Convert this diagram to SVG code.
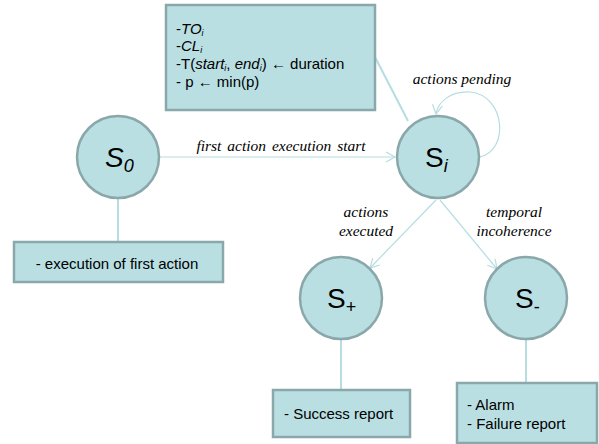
<svg xmlns="http://www.w3.org/2000/svg" width="599" height="444" viewBox="0 0 599 444">
<defs>
<style>
.st{fill:#b9dfe3;stroke:#8aa7aa;stroke-width:2.5}
.cn{fill:none;stroke:#b5dde2;stroke-width:2}
.ar{fill:none;stroke:#b5dde2;stroke-width:1.2}
.bx{font-family:"Liberation Sans",Arial,sans-serif;font-size:15px;fill:#000}
.lb{font-family:"Liberation Serif","Times New Roman",serif;font-style:italic;font-size:15.5px;fill:#000}
.nm{font-family:"Liberation Sans",Arial,sans-serif;font-size:28px;fill:#000}
.sb{font-size:18px}
.sub{font-style:italic;font-size:9px}
</style>
<marker id="ah" markerWidth="12" markerHeight="12" refX="10" refY="6" orient="auto" markerUnits="userSpaceOnUse">
<path d="M1,1 L10,6 L1,11" fill="none" stroke="#b5dde2" stroke-width="1.2"/>
</marker>
</defs>
<rect width="599" height="444" fill="#fff"/>
<g id="connectors">
<line class="cn" x1="375" y1="57" x2="408" y2="121"/>
<line class="cn" x1="118" y1="199" x2="118" y2="242"/>
<line class="cn" x1="341" y1="339" x2="341" y2="390"/>
<line class="cn" x1="526" y1="340" x2="526" y2="383"/>
<line class="ar" x1="160" y1="157" x2="395" y2="157" marker-end="url(#ah)"/>
<line class="ar" x1="436" y1="200" x2="370" y2="268" marker-end="url(#ah)"/>
<line class="ar" x1="440" y1="200" x2="497" y2="269" marker-end="url(#ah)"/>
<path class="ar" d="M480,157 C510,150 505,95 470,92 C450,91 438,102 436,114" marker-end="url(#ah)"/>
<text class="lb" x="281" y="151" text-anchor="middle" word-spacing="2">first action execution start</text>
<text class="lb" x="462" y="84" text-anchor="middle">actions pending</text>
<text class="lb" x="366" y="217" text-anchor="middle">actions</text>
<text class="lb" x="366" y="236" text-anchor="middle">executed</text>
<text class="lb" x="514" y="217" text-anchor="middle">temporal</text>
<text class="lb" x="514" y="236" text-anchor="middle">incoherence</text>
</g>
<g id="note-top">
<rect class="st" x="166" y="5" width="209" height="105"/>
<text class="bx" x="176" y="34">-<tspan font-style="italic">TO</tspan><tspan class="sub" dy="2">i</tspan></text>
<text class="bx" x="176" y="51">-<tspan font-style="italic">CL</tspan><tspan class="sub" dy="2">i</tspan></text>
<text class="bx" x="176" y="69">-T(<tspan font-style="italic">start</tspan><tspan class="sub" dy="2">i</tspan><tspan dy="-2">, </tspan><tspan font-style="italic">end</tspan><tspan class="sub" dy="2">i</tspan><tspan dy="-2">)  ← duration</tspan></text>
<text class="bx" x="176" y="87">- p ← min(p)</text>
</g>
<g id="S0">
<circle class="st" cx="118" cy="157" r="41"/>
<text class="nm" x="105" y="167" font-style="italic">S<tspan class="sb" dy="5">0</tspan></text>
</g>
<g id="note-S0">
<rect class="st" x="14" y="242" width="209" height="40"/>
<text class="bx" x="117" y="269" text-anchor="middle">- execution of first action</text>
</g>
<g id="Si">
<circle class="st" cx="438" cy="157" r="41"/>
<text class="nm" x="425" y="167">S<tspan class="sb" font-style="italic" dy="5">i</tspan></text>
</g>
<g id="Splus">
<circle class="st" cx="341" cy="298" r="41"/>
<text class="nm" x="327" y="308">S<tspan class="sb" dy="5">+</tspan></text>
</g>
<g id="Sminus">
<circle class="st" cx="526" cy="298" r="41"/>
<text class="nm" x="515" y="308">S<tspan class="sb" dy="5">-</tspan></text>
</g>
<g id="note-Splus">
<rect class="st" x="273" y="390" width="137" height="47"/>
<text class="bx" x="284" y="419">- Success report</text>
</g>
<g id="note-Sminus">
<rect class="st" x="457" y="383" width="140" height="60"/>
<text class="bx" x="467" y="410">- Alarm</text>
<text class="bx" x="467" y="429">- Failure report</text>
</g>
</svg>
